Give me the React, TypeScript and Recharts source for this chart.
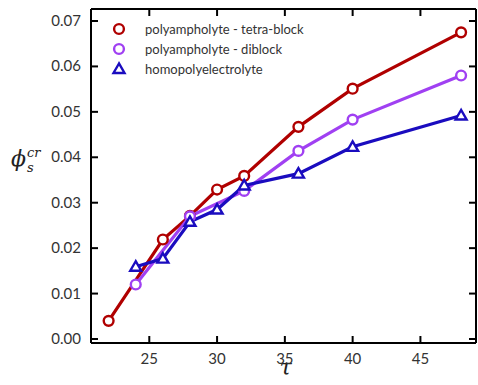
import React from 'react';
import { LineChart, Line, XAxis, YAxis, Legend } from 'recharts';

const tetraTau = [22, 26, 28, 30, 32, 36, 40, 48];
const tetraPhi = [0.004, 0.0219, 0.0271, 0.0329, 0.0359, 0.0467, 0.0551, 0.0675];
const diblockTau = [24, 28, 32, 36, 40, 48];
const diblockPhi = [0.012, 0.027, 0.0326, 0.0414, 0.0483, 0.058];
const homoTau = [24, 26, 28, 30, 32, 36, 40, 48];
const homoPhi = [0.0159, 0.0177, 0.0258, 0.0285, 0.0338, 0.0364, 0.0423, 0.0492];

const xTicks = [25, 30, 35, 40, 45];
const yTicks = [0, 0.01, 0.02, 0.03, 0.04, 0.05, 0.06, 0.07];

const seriesNames = ['polyampholyte - tetra-block', 'polyampholyte - diblock', 'homopolyelectrolyte'];
const RED = '#b00000';
const PURPLE = '#a040f2';
const BLUE = '#1a0cbf';

const toRows = (xs: number[], ys: number[]) => xs.map((t, i) => ({ tau: t, phi: ys[i] }));
const tetraData = toRows(tetraTau, tetraPhi);
const diblockData = toRows(diblockTau, diblockPhi);
const homoData = toRows(homoTau, homoPhi);

const FONT = 'Lato, "Open Sans", sans-serif';
const TXT = '#333';

const BottomTick = (p: any) => (
  <g>
    <line x1={p.x} x2={p.x} y1={p.y} y2={p.y - 7} stroke="#000" strokeWidth={2} />
    <text x={p.x} y={p.y + 21} textAnchor="middle" fontSize={15} fontFamily={FONT} fill={TXT}>
      {p.payload.value}
    </text>
  </g>
);
const TopTick = (p: any) => (
  <line x1={p.x} x2={p.x} y1={9} y2={16} stroke="#000" strokeWidth={2} />
);
const LeftTick = (p: any) => (
  <g>
    <line x1={p.x} x2={p.x + 7} y1={p.y} y2={p.y} stroke="#000" strokeWidth={2} />
    <text x={p.x - 10} y={p.y + 5} textAnchor="end" fontSize={15} fontFamily={FONT} fill={TXT}>
      {Number(p.payload.value).toFixed(2)}
    </text>
  </g>
);
const RightTick = (p: any) => (
  <line x1={476} x2={469} y1={p.y} y2={p.y} stroke="#000" strokeWidth={2} />
);

const CircleDot = (color: string) => (p: any) => (
  <circle key={`c-${p.index}`} cx={p.cx} cy={p.cy} r={4.9} fill="#fff" stroke={color} strokeWidth={2.4} />
);
const TriDot = (color: string) => (p: any) => (
  <path
    key={`t-${p.index}`}
    d={`M${p.cx},${p.cy - 5.5} L${p.cx - 5.5},${p.cy + 4} L${p.cx + 5.5},${p.cy + 4} Z`}
    fill="#fff"
    stroke={color}
    strokeWidth={2.4}
    strokeLinejoin="miter"
  />
);

const LegendContent = () => {
  const rows = [
    { name: seriesNames[0], color: RED, tri: false },
    { name: seriesNames[1], color: PURPLE, tri: false },
    { name: seriesNames[2], color: BLUE, tri: true },
  ];
  return (
    <svg width={240} height={66}>
      {rows.map((r, i) => {
        const cy = 11 + i * 20;
        return (
          <g key={r.name}>
            {r.tri ? (
              <path d={`M14,${cy - 5.5} L8.5,${cy + 4} L19.5,${cy + 4} Z`} fill="#fff" stroke={r.color} strokeWidth={2.4} />
            ) : (
              <circle cx={14} cy={cy} r={4.9} fill="#fff" stroke={r.color} strokeWidth={2.4} />
            )}
            <text x={40} y={cy + 4.5} fontSize={13} fontFamily={FONT} fill={TXT}>
              {r.name}
            </text>
          </g>
        );
      })}
    </svg>
  );
};

const YLabel = () => (
  <g fontFamily='"DejaVu Serif", serif' fill="#222" fontStyle="italic">
    <text x={11} y={166} fontSize={22}>ϕ</text>
    <text x={27} y={157} fontSize={13}>cr</text>
    <text x={27} y={172} fontSize={13}>s</text>
  </g>
);

const XLabel = (p: any) => {
  const vb = p.viewBox || { x: 91, width: 385 };
  return (
    <text x={vb.x + vb.width / 2 + 2} y={375} textAnchor="middle" fontSize={22} fontStyle="italic" fontFamily='"DejaVu Serif", serif' fill="#222">
      τ
    </text>
  );
};

export default function App() {
  const xDomain = [20.7, 49.1];
  const yDomain = [-0.00088, 0.07264];
  return (
    <div style={{ position: 'absolute', left: 0, top: 0, width: 478, height: 385, background: '#fff' }}>
      <LineChart width={478} height={385} margin={{ top: 8, right: 1, bottom: 0, left: 0 }}>
        <XAxis
          xAxisId="b"
          type="number"
          dataKey="tau"
          orientation="bottom"
          domain={xDomain}
          ticks={xTicks}
          interval={0}
          allowDataOverflow
          height={42}
          tickSize={0}
          tickMargin={0}
          tickLine={false}
          axisLine={{ stroke: '#000', strokeWidth: 2 }}
          tick={<BottomTick />}
          label={<XLabel />}
        />
        <XAxis
          xAxisId="t"
          type="number"
          dataKey="tau"
          orientation="top"
          domain={xDomain}
          ticks={xTicks}
          interval={0}
          allowDataOverflow
          height={1}
          tickSize={0}
          tickMargin={0}
          tickLine={false}
          axisLine={{ stroke: '#000', strokeWidth: 2 }}
          tick={<TopTick />}
        />
        <YAxis
          yAxisId="l"
          type="number"
          orientation="left"
          domain={yDomain}
          ticks={yTicks}
          interval={0}
          allowDataOverflow
          width={91}
          tickSize={0}
          tickMargin={0}
          tickLine={false}
          axisLine={{ stroke: '#000', strokeWidth: 2 }}
          tick={<LeftTick />}
          label={<YLabel />}
        />
        <YAxis
          yAxisId="r"
          type="number"
          orientation="right"
          domain={yDomain}
          ticks={yTicks}
          interval={0}
          allowDataOverflow
          width={1}
          tickSize={0}
          tickMargin={0}
          tickLine={false}
          axisLine={{ stroke: '#000', strokeWidth: 2 }}
          tick={<RightTick />}
        />
        <Legend
          layout="horizontal"
          verticalAlign="middle"
          align="center"
          wrapperStyle={{ position: 'absolute', left: 105, top: 18, width: 240, height: 66 }}
          content={<LegendContent />}
        />
        <Line
          xAxisId="b"
          yAxisId="l"
          data={tetraData}
          dataKey="phi"
          name={seriesNames[0]}
          stroke={RED}
          strokeWidth={3.2}
          dot={CircleDot(RED)}
          activeDot={false}
          isAnimationActive={false}
        />
        <Line
          xAxisId="b"
          yAxisId="l"
          data={diblockData}
          dataKey="phi"
          name={seriesNames[1]}
          stroke={PURPLE}
          strokeWidth={3.2}
          dot={CircleDot(PURPLE)}
          activeDot={false}
          isAnimationActive={false}
        />
        <Line
          xAxisId="b"
          yAxisId="l"
          data={homoData}
          dataKey="phi"
          name={seriesNames[2]}
          stroke={BLUE}
          strokeWidth={3.2}
          dot={TriDot(BLUE)}
          activeDot={false}
          isAnimationActive={false}
        />
      </LineChart>
    </div>
  );
}
